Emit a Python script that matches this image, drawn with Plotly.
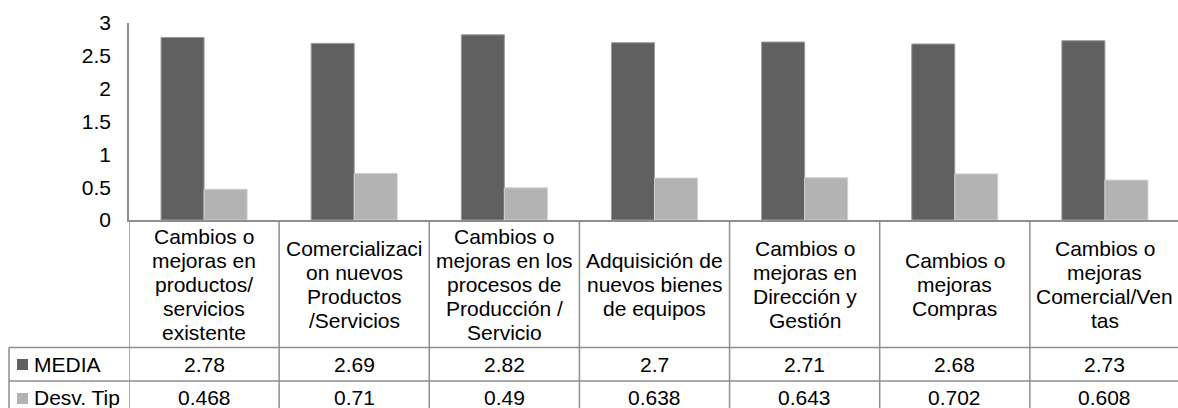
import plotly.graph_objects as go

categories = [
    "Cambios o<br>mejoras en<br>productos/<br>servicios<br>existente",
    "Comercializaci<br>on nuevos<br>Productos<br>/Servicios",
    "Cambios o<br>mejoras en los<br>procesos de<br>Producción /<br>Servicio",
    "Adquisición de<br>nuevos bienes<br>de equipos",
    "Cambios o<br>mejoras en<br>Dirección y<br>Gestión",
    "Cambios o<br>mejoras<br>Compras",
    "Cambios o<br>mejoras<br>Comercial/Ven<br>tas",
]
media = [2.78, 2.69, 2.82, 2.7, 2.71, 2.68, 2.73]
desv = [0.468, 0.71, 0.49, 0.638, 0.643, 0.702, 0.608]
media_labels = ["2.78", "2.69", "2.82", "2.7", "2.71", "2.68", "2.73"]
desv_labels = ["0.468", "0.71", "0.49", "0.638", "0.643", "0.702", "0.608"]
series_names = ["MEDIA", "Desv. Tip"]
y_ticks = [0, 0.5, 1, 1.5, 2, 2.5, 3]
y_tick_text = ["0", "0.5", "1", "1.5", "2", "2.5", "3"]

DARK = "#606060"
LIGHT = "#b3b3b3"
LINE = "#8e8e8e"
FONT = "Liberation Sans, Arial, sans-serif"
FS = 21

W, H = 1178, 408
ML, MT, MB = 129, 23, 188
PLOT_H = H - MT - MB  # 197
PLOT_W = W - ML       # 1049
COL_W = 150.14


def py(p):
    return (H - MB - p) / PLOT_H


def px(p):
    return (p - ML) / PLOT_W


idx = list(range(len(categories)))

fig = go.Figure()
fig.add_trace(go.Bar(x=idx, y=media, name=series_names[0], marker=dict(color=DARK, line=dict(color="#9a9a9a", width=1))))
fig.add_trace(go.Bar(x=idx, y=desv, name=series_names[1], marker=dict(color=LIGHT, line=dict(color="#d0d0d0", width=1))))

annotations = []
shapes = []

# header labels (one annotation per line, 24px line spacing)
for i, cat in enumerate(categories):
    lines = cat.split("<br>")
    n = len(lines)
    for k, ln in enumerate(lines):
        yp = 284 + (k - (n - 1) / 2) * 24
        annotations.append(dict(x=i, xref="x", y=py(yp), yref="paper", text=ln, showarrow=False,
                                xanchor="center", yanchor="middle", font=dict(size=FS, color="black", family=FONT)))
    annotations.append(dict(x=i, xref="x", y=py(364), yref="paper", text=media_labels[i], showarrow=False,
                            xanchor="center", yanchor="middle", font=dict(size=FS, color="black", family=FONT)))
    annotations.append(dict(x=i, xref="x", y=py(397), yref="paper", text=desv_labels[i], showarrow=False,
                            xanchor="center", yanchor="middle", font=dict(size=FS, color="black", family=FONT)))

# row headers
for name, yc, col, sq in [(series_names[0], 364, DARK, (359, 370)), (series_names[1], 397, LIGHT, (393, 404))]:
    annotations.append(dict(x=px(32), xref="paper", y=py(yc), yref="paper", text=name, showarrow=False,
                            xanchor="left", yanchor="middle", font=dict(size=FS, color="black", family=FONT)))
    shapes.append(dict(type="rect", xref="paper", yref="paper", x0=px(17), x1=px(28), y0=py(sq[1]), y1=py(sq[0]),
                       fillcolor=col, line=dict(width=0)))

# table grid lines
bottom = py(420)
lw = 1.5
for i in range(1, len(categories) + 1):
    shapes.append(dict(type="line", xref="x", yref="paper", x0=i - 0.5, x1=i - 0.5, y0=py(220), y1=bottom,
                       line=dict(color=LINE, width=lw)))
shapes.append(dict(type="line", xref="x", yref="paper", x0=-0.5, x1=-0.5, y0=py(220), y1=bottom,
                   line=dict(color=LINE, width=lw)))
shapes.append(dict(type="line", xref="paper", yref="paper", x0=px(9), x1=px(9), y0=py(347.5), y1=bottom,
                   line=dict(color=LINE, width=lw)))
for yy in [347.5, 381]:
    shapes.append(dict(type="line", xref="paper", yref="paper", x0=px(9), x1=1.01, y0=py(yy), y1=py(yy),
                       line=dict(color=LINE, width=lw)))

fig.update_layout(
    width=W, height=H,
    margin=dict(l=ML, r=0, t=MT, b=MB, pad=0),
    paper_bgcolor="white", plot_bgcolor="white",
    barmode="group", bargap=0.427, bargroupgap=0,
    showlegend=False,
    annotations=annotations, shapes=shapes,
    font=dict(family=FONT, size=FS, color="black"),
)
fig.update_xaxes(range=[-0.5, -0.5 + PLOT_W / COL_W], showticklabels=False, ticks="", showgrid=False,
                 zeroline=False, showline=True, linecolor=LINE, linewidth=2, fixedrange=True)
fig.update_yaxes(range=[0, 3], tickvals=y_ticks, ticktext=y_tick_text, showgrid=False, zeroline=False,
                 showline=True, linecolor=LINE, linewidth=1.5, ticks="", ticklabelstandoff=12,
                 tickfont=dict(size=FS, color="black", family=FONT), fixedrange=True)

fig.write_html("out.html", config={"displayModeBar": False},
               post_script="document.body.style.margin='0';document.body.style.overflow='hidden';")
